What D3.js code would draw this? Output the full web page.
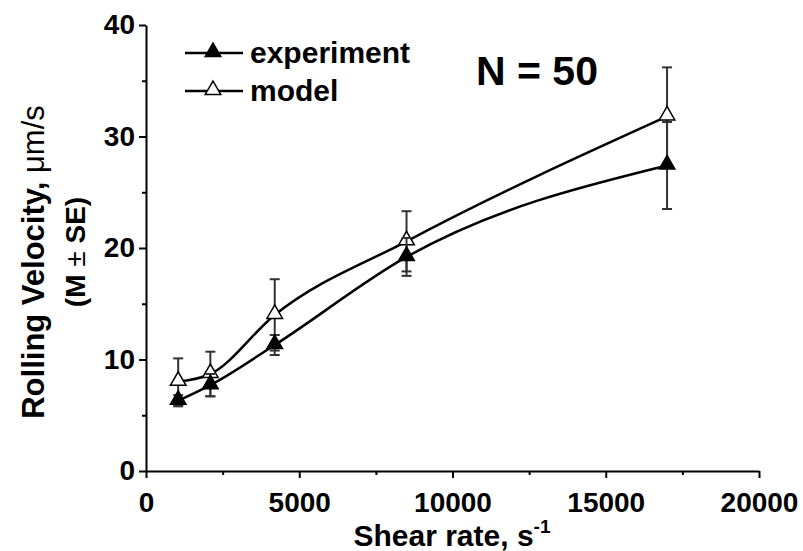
<!DOCTYPE html>
<meta charset="utf-8">
<head>
<title>Rolling velocity vs shear rate</title>
<script src="https://cdn.jsdelivr.net/npm/d3@7"></script>
<style>
  body { margin: 0; background: #fff; }
  text { font-family: "Liberation Sans", Arial, sans-serif; fill: #000; }
  .axis path, .axis line { stroke: #000; stroke-width: 2; }
  .axis text { font-size: 28px; font-weight: bold; font-family: "Liberation Sans", Arial, sans-serif; }
</style>
</head>
<body>
<div id="chart"></div>
<script>
// data
var shear = [1050, 2100, 4200, 8500, 17000];
var experiment = [6.3, 7.7, 11.3, 19.2, 27.4];
var experimentErr = [0.5, 1.0, 0.9, 1.7, 3.9];
var model = [8.0, 8.7, 14.0, 20.6, 31.8];
var modelErr = [2.1, 2.0, 3.2, 2.7, 4.4];
var xTicks = [0, 5000, 10000, 15000, 20000];
var yTicks = [0, 10, 20, 30, 40];

var width = 803, height = 551;

var svg = d3.select("#chart").append("svg")
  .attr("width", width)
  .attr("height", height);

var x = d3.scaleLinear().domain([0, 20000]).range([146, 759]);
var y = d3.scaleLinear().domain([0, 40]).range([471, 25]);

// minor ticks
svg.append("g").attr("class", "axis")
  .attr("transform", "translate(0," + y(0) + ")")
  .call(d3.axisBottom(x).tickValues(d3.range(2500, 20000, 5000)).tickSize(4).tickFormat(""))
  .select(".domain").remove();
svg.append("g").attr("class", "axis")
  .attr("transform", "translate(" + x(0) + ",0)")
  .call(d3.axisLeft(y).tickValues(d3.range(5, 40, 10)).tickSize(4).tickFormat(""))
  .select(".domain").remove();

// major axes
svg.append("g").attr("class", "axis")
  .attr("transform", "translate(0," + y(0) + ")")
  .call(d3.axisBottom(x).tickValues(xTicks).tickSize(7).tickSizeOuter(0)
    .tickPadding(14).tickFormat(d3.format("d")));

svg.append("g").attr("class", "axis")
  .attr("transform", "translate(" + x(0) + ",0)")
  .call(d3.axisLeft(y).tickValues(yTicks).tickSize(7).tickSizeOuter(0).tickPadding(4));

// axis titles
var xt = svg.append("text")
  .attr("x", 452).attr("y", 546)
  .attr("text-anchor", "middle")
  .style("font-size", "30px").style("font-weight", "bold");
xt.append("tspan").text("Shear rate, s");
xt.append("tspan").text("-1").attr("dy", -13).style("font-size", "19px");

var yt = svg.append("text")
  .attr("transform", "translate(44,262) rotate(-90)")
  .attr("text-anchor", "middle")
  .style("font-size", "31px").style("font-weight", "bold");
yt.append("tspan").text("Rolling Velocity, ");
yt.append("tspan").text("\u03bcm/s").style("font-weight", "normal");

var yt2 = svg.append("text")
  .attr("transform", "translate(85,252) rotate(-90)")
  .attr("text-anchor", "middle")
  .style("font-size", "28px").style("font-weight", "bold");
yt2.append("tspan").text("(M ");
yt2.append("tspan").text("\u00b1").style("font-weight", "normal");
yt2.append("tspan").text(" SE)");

var series = [
  {name: "model", vals: model, err: modelErr, fill: "#fff"},
  {name: "experiment", vals: experiment, err: experimentErr, fill: "#000"}
];

var line = d3.line()
  .x(function(d) { return x(d[0]); })
  .y(function(d) { return y(d[1]); })
  .curve(d3.curveMonotoneX);

var tri = d3.symbol().type(d3.symbolTriangle).size(105);

series.forEach(function(s) {
  var pts = shear.map(function(v, i) { return [v, s.vals[i], s.err[i]]; });

  // error bars
  var eb = svg.append("g").attr("stroke", "#333").attr("stroke-width", 2);
  pts.forEach(function(p) {
    eb.append("line").attr("x1", x(p[0])).attr("x2", x(p[0]))
      .attr("y1", y(p[1] - p[2])).attr("y2", y(p[1] + p[2]));
    [p[1] - p[2], p[1] + p[2]].forEach(function(v) {
      eb.append("line").attr("x1", x(p[0]) - 5).attr("x2", x(p[0]) + 5)
        .attr("y1", y(v)).attr("y2", y(v));
    });
  });

  svg.append("path").datum(pts)
    .attr("fill", "none").attr("stroke", "#000").attr("stroke-width", 2.5)
    .attr("d", line);

  svg.selectAll(null).data(pts).enter().append("path")
    .attr("d", tri)
    .attr("transform", function(d) { return "translate(" + x(d[0]) + "," + (y(d[1]) - 1) + ")"; })
    .attr("fill", s.fill).attr("stroke", "#000").attr("stroke-width", 1.5);
});

// legend
var legend = [
  {name: "experiment", fill: "#000", y: 53},
  {name: "model", fill: "#fff", y: 91}
];
legend.forEach(function(l) {
  svg.append("line").attr("x1", 185).attr("x2", 243)
    .attr("y1", l.y).attr("y2", l.y)
    .attr("stroke", "#000").attr("stroke-width", 2.5);
  svg.append("path").attr("d", tri)
    .attr("transform", "translate(213," + (l.y - 1) + ")")
    .attr("fill", l.fill).attr("stroke", "#000").attr("stroke-width", 1.5);
  svg.append("text").attr("x", 250).attr("y", l.y + 10)
    .style("font-size", "30px").style("font-weight", "bold")
    .text(l.name);
});

svg.append("text").attr("x", 476).attr("y", 85)
  .style("font-size", "41px").style("font-weight", "bold")
  .text("N = 50");
</script>
</body>
</html>
